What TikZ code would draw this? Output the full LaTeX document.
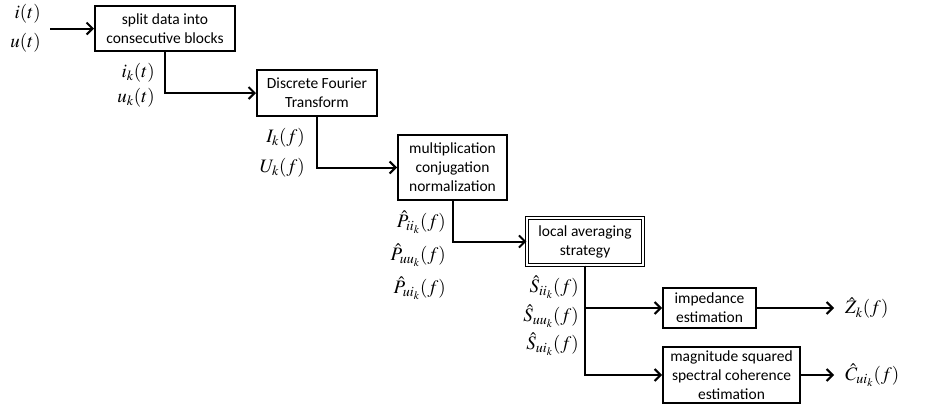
\documentclass[tikz,border=0pt]{standalone}
\usepackage{mathptmx}
\usepackage{fontspec}
\setsansfont{Carlito}
\usetikzlibrary{arrows.meta}
\begin{document}
\begin{tikzpicture}[x=1pt,y=-1pt,
  box/.style={draw, line width=2pt, align=center, inner sep=0pt,
    font=\sffamily\fontsize{15.5}{19}\selectfont},
  dbox/.style={box, line width=1.2pt, double, double distance=1.4pt},
  conn/.style={line width=2pt, -{Straight Barb[length=6pt,width=12pt]}},
  lab/.style={inner sep=0pt, font=\fontsize{19}{22}\selectfont}]
\useasboundingbox (0,0) rectangle (927,410);
\node[box, minimum width=140pt, minimum height=45pt] (b1) at (165,28.5) {split data into\\consecutive blocks};
\node[box, minimum width=120pt, minimum height=46pt] (b2) at (317,93) {Discrete Fourier\\Transform};
\node[box, minimum width=109pt, minimum height=65pt] (b3) at (452.5,167.5) {multiplication\\conjugation\\normalization};
\node[dbox, minimum width=116pt, minimum height=47pt] (b4) at (585,241.5) {local averaging\\strategy};
\node[box, minimum width=93pt, minimum height=40pt] (b5) at (709.5,308) {impedance\\estimation};
\node[box, minimum width=137pt, minimum height=56pt] (b6) at (731.5,375) {magnitude squared\\spectral coherence\\estimation};

\coordinate (in) at (50,28.5);
\node[lab, anchor=east] (l1) at (41,14) {$i(t)$};
\node[lab, anchor=east] (l2) at (41,43) {$u(t)$};
\node[lab, anchor=east] (l3) at (155,73) {$i_k(t)$};
\node[lab, anchor=east] (l4) at (155,98) {$u_k(t)$};
\node[lab, anchor=east] (l5) at (305,138) {$I_k(f)$};
\node[lab, anchor=east] (l6) at (305,168) {$U_k(f)$};
\node[lab, anchor=east] (l7) at (446,222) {$\hat{P}_{ii_k}(f)$};
\node[lab, anchor=east] (l8) at (446,255) {$\hat{P}_{uu_k}(f)$};
\node[lab, anchor=east] (l9) at (446,288) {$\hat{P}_{ui_k}(f)$};
\node[lab, anchor=east] (l10) at (579,287) {$\hat{S}_{ii_k}(f)$};
\node[lab, anchor=east] (l11) at (579,316) {$\hat{S}_{uu_k}(f)$};
\node[lab, anchor=east] (l12) at (579,344) {$\hat{S}_{ui_k}(f)$};
\node[lab, anchor=west] (z) at (845,308) {$\hat{Z}_k(f)$};
\node[lab, anchor=west] (c) at (845,375) {$\hat{C}_{ui_k}(f)$};

\draw[conn] (in) -- (b1.west);
\draw[conn] (b1.south) |- (b2.west);
\draw[conn] (b2.south) |- (b3.west);
\draw[conn] (b3.south) |- (b4.west);
\draw[conn] (b4.south) |- (b5.west);
\draw[conn] (b4.south) |- (b6.west);
\draw[conn, shorten >=11pt] (b5.east) -- (z.west);
\draw[conn, shorten >=11pt] (b6.east) -- (c.west);
\end{tikzpicture}
\end{document}
